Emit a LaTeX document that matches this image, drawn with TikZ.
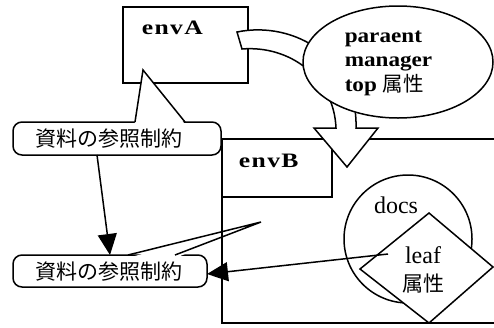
\documentclass[tikz,border=0pt]{standalone}
\usepackage{fontspec}
\setmainfont{Liberation Serif}
\newfontfamily\jpf{Noto Sans CJK JP}
\newfontfamily\latb{Liberation Serif Bold}[FakeStretch=1.13]
\newfontfamily\envf{Liberation Serif Bold}[FakeStretch=1.25,LetterSpace=7]
\usetikzlibrary{arrows.meta,shapes.geometric}
\begin{document}
\begin{tikzpicture}[x=1pt,y=-1pt,line width=1.5pt,
  boxst/.style={draw,fill=white,inner sep=0pt,outer sep=0pt},
  calloutst/.style={draw,fill=white,rounded corners=9pt,inner sep=0pt,outer sep=0pt},
  jptext/.style={font=\jpf\fontsize{21}{24}\selectfont,inner sep=0pt},
  envtext/.style={font=\envf\fontsize{20.5}{22}\selectfont,inner sep=0pt},
  attrtext/.style={font=\latb\fontsize{20.5}{24.5}\selectfont,inner sep=0pt,align=left},
  plaintext/.style={font=\fontsize{24}{28}\selectfont,inner sep=0pt},
  flowarr/.style={-{Triangle[length=21pt,width=19pt]}},
]
\clip (0,0) rectangle (494,327);
\fill[white] (0,0) rectangle (494,327);

% envB outer box and label box
\node[boxst,minimum width=298pt,minimum height=184pt] (boxB) at (371,231) {};
\node[boxst,minimum width=110pt,minimum height=58pt] (boxBl) at (277,168) {};
\node[envtext,anchor=base west] (labB) at (238,167) {envB};

% docs circle and leaf diamond
\node[draw,fill=white,circle,minimum size=128pt,inner sep=0pt] (docs) at (408,239) {};
\node[plaintext] (docslab) at (396,205) {docs};
\draw[fill=white,line join=miter] (429,213) -- (493,267) -- (429,323) -- (360,269) -- cycle;
\node[align=center,inner sep=0pt,font=\fontsize{24}{28}\selectfont] (leaf) at (423,270)
      {leaf\\{\jpf\fontsize{21}{28}\selectfont 属性}};

% envA box
\node[boxst,minimum width=125pt,minimum height=76pt] (boxA) at (185.5,45) {};
\node[envtext,anchor=base west] (labA) at (141,34) {envA};

% big hollow arrow from envA to envB
\draw[fill=white,line join=miter]
  (237,32) .. controls (296,20) and (358,60) .. (356,128)
  -- (378,128) -- (347,167) -- (314,128) -- (336,128)
  .. controls (334,78) and (290,45) .. (242,49) -- cycle;

% attribute ellipse
\node[draw,fill=white,ellipse,minimum width=190pt,minimum height=112pt,inner sep=0pt] (attr) at (398,62) {};
\node[attrtext,anchor=west] (attrlab) at (344,63) {paraent\\manager\\top {\jpf 属性}};

% callout 1
\node[calloutst,minimum width=208pt,minimum height=33pt] (call1) at (117,138.5) {};
\coordinate (tip1) at (143,70);
\fill[white] (134.5,125) -- (tip1) -- (185.5,125) -- cycle;
\draw[line join=miter] (135,122) -- (tip1) -- (185,122);
\node[jptext] (call1lab) at (108.5,138.5) {資料の参照制約};

% callout 2
\node[calloutst,minimum width=194pt,minimum height=32pt] (call2) at (110,271) {};
\coordinate (tip2) at (261,222);
\fill[white] (127.5,258) -- (tip2) -- (175.5,258) -- cycle;
\draw[line join=miter] (128,255) -- (tip2) -- (175,255);
\node[jptext] (call2lab) at (108.5,272) {資料の参照制約};
\draw (boxB.north west) -- (boxB.south west);

% connectors
\draw[flowarr] ([xshift=-20pt]call1.south) -- (call2.north);
\coordinate (leafend) at (388,254);
\draw[flowarr] (leafend) -- ([yshift=-3pt]call2.east);
\end{tikzpicture}
\end{document}
